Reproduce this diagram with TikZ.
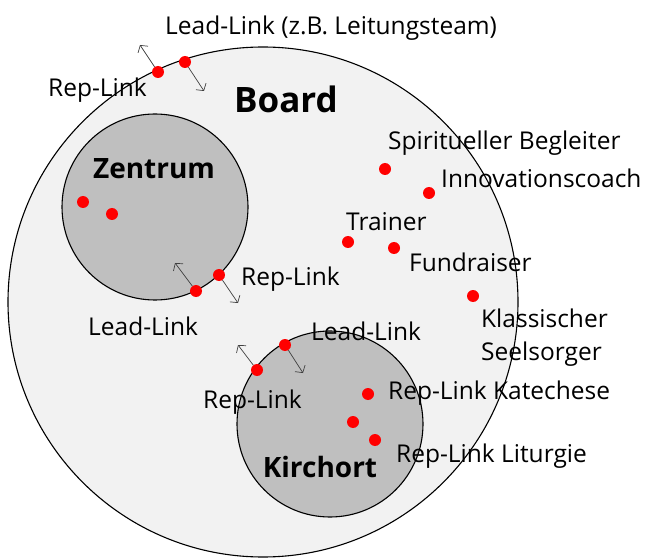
\documentclass[tikz,border=0pt]{standalone}
\usepackage{fontspec}
\setmainfont{Open Sans}
\usetikzlibrary{arrows.meta}
\definecolor{boardbg}{HTML}{F2F2F2}
\definecolor{circlebg}{HTML}{BFBFBF}
\definecolor{linkred}{HTML}{FF0000}
\definecolor{arrowgray}{HTML}{404040}
\tikzset{
  circ/.style={draw=black, line width=1.1pt},
  dot/.style={circle, fill=linkred, inner sep=0pt, minimum size=12pt},
  link/.style={draw=arrowgray, line width=0.7pt, -{Straight Barb[length=5pt,width=12pt]}},
  lab/.style={font=\fontsize{24.5}{33}\selectfont, anchor=base west, inner sep=0pt},
  title/.style={font=\fontsize{28}{32}\selectfont\bfseries, anchor=base, inner sep=0pt},
}
\begin{document}
\begin{tikzpicture}[x=1pt,y=-1pt]
  \useasboundingbox (0,0) rectangle (646,559);
  % circles
  \draw[circ, fill=boardbg] (263,302) circle[radius=255pt];
  \draw[circ, fill=circlebg] (155,207) circle[radius=93pt];
  \draw[circ, fill=circlebg] (330,424) circle[radius=93pt];
  % titles
  \node[title, font=\fontsize{35}{40}\selectfont\bfseries] (board) at (286,113) {Board};
  \node[title] (zentrum) at (154,179) {Zentrum};
  \node[title] (kirchort) at (320,477) {Kirchort};
  % links on the board border
  \node[dot] (dTopRep) at (158,72) {};
  \node[dot] (dTopLead) at (185,62) {};
  \coordinate (aTopRep) at (140,45);
  \coordinate (aTopLead) at (204,91);
  \draw[link] (dTopRep) -- (aTopRep);
  \draw[link] (dTopLead) -- (aTopLead);
  \node[lab] (lTopLead) at (165,35) {Lead-Link (z.B. Leitungsteam)};
  \node[lab] (lTopRep) at (48,97) {Rep-Link};
  % zentrum
  \node[dot] (dZen1) at (83,202) {};
  \node[dot] (dZen2) at (112,214) {};
  \node[dot] (dZenLead) at (196,291) {};
  \node[dot] (dZenRep) at (219,275) {};
  \coordinate (aZenLead) at (175,263);
  \coordinate (aZenRep) at (238,303);
  \draw[link] (dZenLead) -- (aZenLead);
  \draw[link] (dZenRep) -- (aZenRep);
  \node[lab] (lZenRep) at (241,285) {Rep-Link};
  \node[lab] (lZenLead) at (88,335) {Lead-Link};
  % roles in the board
  \node[dot] (dSpirit) at (385,169) {};
  \node[dot] (dInno) at (429,193) {};
  \node[dot] (dTrainer) at (348,242) {};
  \node[dot] (dFund) at (394,248) {};
  \node[dot] (dSeel) at (473,296) {};
  \node[lab] (lSpirit) at (388,150) {Spiritueller Begleiter};
  \node[lab] (lInno) at (441,188) {Innovationscoach};
  \node[lab] (lTrainer) at (346,230) {Trainer};
  \node[lab] (lFund) at (409,272) {Fundraiser};
  \node[lab, align=left] (lSeel) at (481,360) {Klassischer\\Seelsorger};
  % kirchort
  \node[dot] (dKirRep) at (257,370) {};
  \node[dot] (dKirLead) at (285,345) {};
  \coordinate (aKirRep) at (238,345);
  \coordinate (aKirLead) at (303,373);
  \draw[link] (dKirRep) -- (aKirRep);
  \draw[link] (dKirLead) -- (aKirLead);
  \node[lab] (lKirLead) at (311,340) {Lead-Link};
  \node[lab] (lKirRep) at (203,408) {Rep-Link};
  \node[dot] (dKat) at (368,394) {};
  \node[dot] (dKir2) at (353,422) {};
  \node[dot] (dLit) at (375,440) {};
  \node[lab] (lKat) at (388,399) {Rep-Link Katechese};
  \node[lab] (lLit) at (396,462) {Rep-Link Liturgie};
\end{tikzpicture}
\end{document}
